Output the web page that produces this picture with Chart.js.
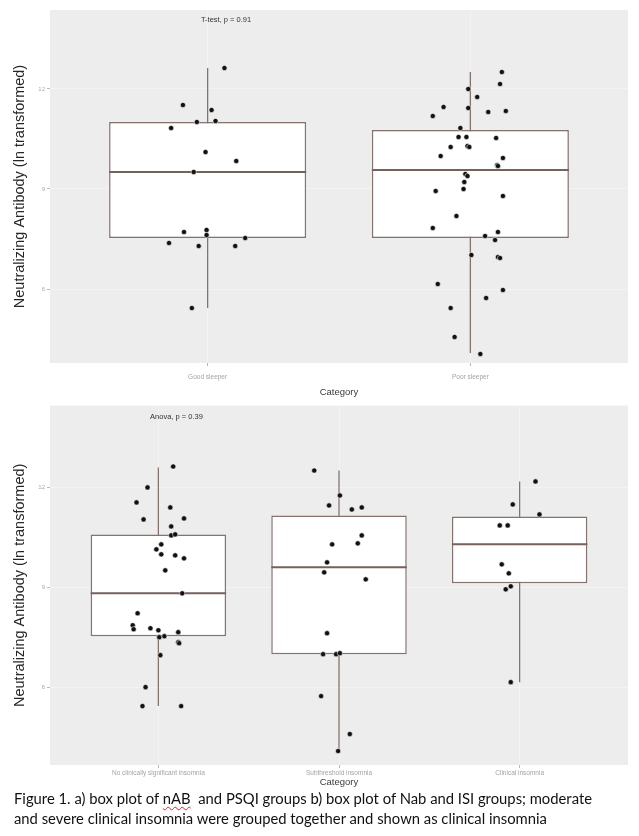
<!DOCTYPE html>
<html lang="en">
<head>
<meta charset="UTF-8">
<meta name="viewport" content="width=device-width, initial-scale=1.0">
<title>Neutralizing antibody by sleep group</title>
<script src="https://cdn.jsdelivr.net/npm/chart.js@4"></script>
<style>
    body { margin: 0; background: #fff; }
    .page { position: relative; width: 639px; height: 836px; overflow: hidden; }
    .plot { position: absolute; left: 0; width: 639px; }
    #psqi-wrap { top: 0; height: 400px; }
    #isi-wrap { top: 400px; height: 390px; }
    .caption {
        position: absolute; left: 14px; top: 788px;
        font-family: Lato, "Open Sans", sans-serif; font-size: 14.8px;
        line-height: 20px; color: #111; white-space: nowrap;
    }
    .squiggle { text-decoration: underline wavy #d22; text-decoration-thickness: 1px; text-underline-offset: 2px; }
</style>
</head>
<body>
<div class="page">
    <div class="plot" id="psqi-wrap"><canvas id="psqi-chart"></canvas></div>
    <div class="plot" id="isi-wrap"><canvas id="isi-chart"></canvas></div>
    <div class="caption">
        <div>Figure 1. a) box plot of <span class="squiggle">nAB</span>&nbsp; and PSQI groups b) box plot of Nab and ISI groups; moderate</div>
        <div>and severe clinical insomnia were grouped together and shown as clinical insomnia</div>
    </div>
</div>
<script>
    // shared axis
    const yTicks = [6, 9, 12];
    const yTitle = 'Neutralizing Antibody (ln transformed)';

    // a) PSQI groups
    const psqiCategories = ['Good sleeper', 'Poor sleeper'];
    const psqiLow    = [5.43, 4.08];
    const psqiQ1     = [7.53, 7.53];
    const psqiMedian = [9.51, 9.57];
    const psqiQ3     = [11.01, 10.77];
    const psqiHigh   = [12.63, 12.51];

    const goodSleeperValues = [12.63, 11.52, 11.37, 11.01, 11.04, 10.83, 10.11, 9.84, 9.51,
        7.71, 7.77, 7.62, 7.53, 7.38, 7.29, 7.29, 5.43];
    const goodSleeperJitter = [0.064, -0.094, 0.015, -0.041, 0.030, -0.139, -0.008, 0.109, -0.053,
        -0.090, -0.004, -0.004, 0.143, -0.147, -0.034, 0.105, -0.060];

    const poorSleeperValues = [12.51, 12.15, 12.00, 11.76, 11.46, 11.43, 11.34, 11.31, 11.19, 10.83,
        10.56, 10.56, 10.53, 10.29, 10.26, 10.26, 9.99, 9.93, 9.72, 9.69,
        9.45, 9.39, 9.21, 9.00, 8.94, 8.79, 8.19, 7.83, 7.71, 7.59,
        7.47, 7.02, 6.96, 6.93, 6.15, 5.97, 5.73, 5.43, 4.56, 4.05];
    const poorSleeperJitter = [0.120, 0.113, -0.008, 0.026, -0.102, -0.008, 0.135, 0.068, -0.143, -0.038,
        -0.045, -0.015, 0.098, -0.011, -0.075, -0.004, -0.113, 0.124, 0.102, 0.105,
        -0.019, -0.011, -0.023, -0.026, -0.132, 0.124, -0.053, -0.143, 0.105, 0.056,
        0.094, 0.004, 0.105, 0.113, -0.124, 0.124, 0.060, -0.075, -0.060, 0.038];

    // b) ISI groups
    const isiCategories = ['No clinically significant insomnia', 'Subthreshold insomnia', 'Clinical insomnia'];
    const isiLow    = [5.43, 4.08, 6.15];
    const isiQ1     = [7.53, 6.99, 9.12];
    const isiMedian = [8.82, 9.60, 10.29];
    const isiQ3     = [10.59, 11.16, 11.13];
    const isiHigh   = [12.60, 12.51, 12.18];

    const noInsomniaValues = [12.63, 12.00, 11.55, 11.40, 11.04, 11.07, 10.83, 10.56, 10.59, 10.29,
        10.14, 9.99, 9.96, 9.87, 9.51, 8.82, 8.22, 7.86, 7.74, 7.77,
        7.71, 7.65, 7.53, 7.50, 7.35, 7.32, 6.96, 6.00, 5.43, 5.43];
    const noInsomniaJitter = [0.082, -0.060, -0.121, 0.066, -0.082, 0.142, 0.071, 0.071, 0.093, 0.016,
        -0.011, 0.016, 0.093, 0.142, 0.038, 0.132, -0.115, -0.142, -0.137, -0.044,
        0.000, 0.110, 0.033, 0.005, 0.110, 0.115, 0.011, -0.071, -0.088, 0.126];

    const subthresholdValues = [12.51, 11.76, 11.46, 11.34, 11.40, 10.56, 10.29, 10.32, 9.75,
        9.45, 9.24, 7.62, 6.99, 6.99, 7.02, 5.73, 4.59, 4.08];
    const subthresholdJitter = [-0.137, 0.005, -0.055, 0.071, 0.126, 0.126, -0.038, 0.104, -0.066,
        -0.082, 0.148, -0.066, -0.088, -0.016, 0.005, -0.099, 0.060, -0.005];

    const clinicalValues = [12.18, 11.49, 11.19, 10.86, 10.86, 9.69, 9.42, 9.03, 8.94, 6.15];
    const clinicalJitter = [0.088, -0.038, 0.110, -0.110, -0.066, -0.099, -0.060, -0.049, -0.077, -0.049];

    const HALF_BOX = 0.375;
    const BOX_LINE = '#85736e';
    const PANEL_BG = '#ededed';
    const GRID = 'rgba(255,255,255,0.35)';

    // grey ggplot panel behind everything + the test label
    const panelPlugin = {
        id: 'panel',
        beforeDraw(chart) {
            const a = chart.chartArea;
            const c = chart.ctx;
            c.save();
            c.fillStyle = PANEL_BG;
            c.fillRect(a.left, a.top, a.right - a.left, a.bottom - a.top);
            c.restore();
        },
        afterDatasetsDraw(chart, args, opts) {
            if (!opts.text) return;
            const c = chart.ctx;
            c.save();
            c.font = '7.5px "Liberation Sans", Arial, sans-serif';
            c.fillStyle = '#333';
            c.textAlign = 'center';
            c.textBaseline = 'middle';
            c.fillText(opts.text, chart.scales.x.getPixelForValue(opts.x), chart.scales.y.getPixelForValue(opts.y));
            c.restore();
        }
    };

    function buildChart(id, s) {
        const pos = s.categories.map((c, i) => i + 1);
        const boxData = pos.map((x, i) => ({ x: x, y: [s.q1[i], s.q3[i]] }));
        const whiskerData = [];
        const medianData = [];
        pos.forEach((x, i) => {
            whiskerData.push({ x: x, y: s.low[i] }, { x: x, y: s.high[i] }, { x: x, y: null });
            medianData.push({ x: x - HALF_BOX, y: s.median[i] }, { x: x + HALF_BOX, y: s.median[i] }, { x: x, y: null });
        });
        const pointData = [];
        s.values.forEach((vals, i) => {
            vals.forEach((v, j) => pointData.push({ x: pos[i] + s.jitter[i][j], y: v }));
        });

        return new Chart(document.getElementById(id), {
            type: 'scatter',
            data: {
                datasets: [
                    { type: 'scatter', data: pointData, order: 0, pointRadius: 2.6, pointBackgroundColor: '#111',
                      pointBorderColor: 'rgba(255,255,255,0.7)', pointBorderWidth: 0.8 },
                    { type: 'line', data: medianData, order: 1, borderColor: '#76625d', borderWidth: 2,
                      pointRadius: 0, spanGaps: false },
                    { type: 'bar', data: boxData, order: 2, backgroundColor: '#fff', borderColor: BOX_LINE,
                      borderWidth: 1.5, borderSkipped: false, barPercentage: 0.75, categoryPercentage: 1 },
                    { type: 'line', data: whiskerData, order: 3, borderColor: BOX_LINE, borderWidth: 1.3,
                      pointRadius: 0, spanGaps: false }
                ]
            },
            options: {
                responsive: true,
                maintainAspectRatio: false,
                animation: false,
                layout: { padding: { top: s.padTop, right: 11, left: 0, bottom: 0 } },
                plugins: {
                    legend: { display: false },
                    tooltip: { enabled: false },
                    panel: { text: s.label, x: s.labelX, y: s.labelY }
                },
                scales: {
                    x: {
                        type: 'linear',
                        min: 0.4,
                        max: s.categories.length + 0.6,
                        offset: false,
                        afterBuildTicks: sc => { sc.ticks = pos.map(v => ({ value: v })); },
                        afterFit: sc => { sc.height = s.xAxisHeight; },
                        ticks: {
                            autoSkip: false, maxRotation: 0, padding: s.xTickPad,
                            color: '#a3a3a3', font: { size: 6.5, family: '"Liberation Sans", Arial' },
                            callback: v => s.categories[v - 1]
                        },
                        grid: { offset: false, color: GRID, lineWidth: 1, tickColor: '#b8b8b8', tickLength: 3 },
                        border: { display: false },
                        title: { display: true, text: 'Category', color: '#3a3a3a',
                                 font: { size: 9.5, family: '"Liberation Sans", Arial' },
                                 padding: { top: 0, bottom: 2.3 } }
                    },
                    y: {
                        type: 'linear',
                        min: s.yMin,
                        max: s.yMax,
                        afterBuildTicks: sc => { sc.ticks = yTicks.map(v => ({ value: v })); },
                        afterFit: sc => { sc.width = 50; },
                        ticks: { color: '#a8a8a8', padding: 2, font: { size: 6, family: '"Liberation Sans", Arial' } },
                        grid: { color: GRID, lineWidth: 1, tickColor: '#b8b8b8', tickLength: 3 },
                        border: { display: false },
                        title: { display: true, text: yTitle, color: '#262626',
                                 font: { size: 14.5, family: '"Liberation Sans", Arial' },
                                 padding: { top: 11.3, bottom: 0 } }
                    }
                }
            },
            plugins: [panelPlugin]
        });
    }

    buildChart('psqi-chart', {
        categories: psqiCategories,
        low: psqiLow, q1: psqiQ1, median: psqiMedian, q3: psqiQ3, high: psqiHigh,
        values: [goodSleeperValues, poorSleeperValues],
        jitter: [goodSleeperJitter, poorSleeperJitter],
        yMin: 3.78, yMax: 14.37,
        padTop: 10, xAxisHeight: 37, xTickPad: 7.5,
        label: 'T-test, p = 0.91', labelX: 1.07, labelY: 14.07
    });

    buildChart('isi-chart', {
        categories: isiCategories,
        low: isiLow, q1: isiQ1, median: isiMedian, q3: isiQ3, high: isiHigh,
        values: [noInsomniaValues, subthresholdValues, clinicalValues],
        jitter: [noInsomniaJitter, subthresholdJitter, clinicalJitter],
        yMin: 3.66, yMax: 14.46,
        padTop: 5, xAxisHeight: 25, xTickPad: 1.5,
        label: 'Anova, p = 0.39', labelX: 1.10, labelY: 14.13
    });
</script>
</body>
</html>
